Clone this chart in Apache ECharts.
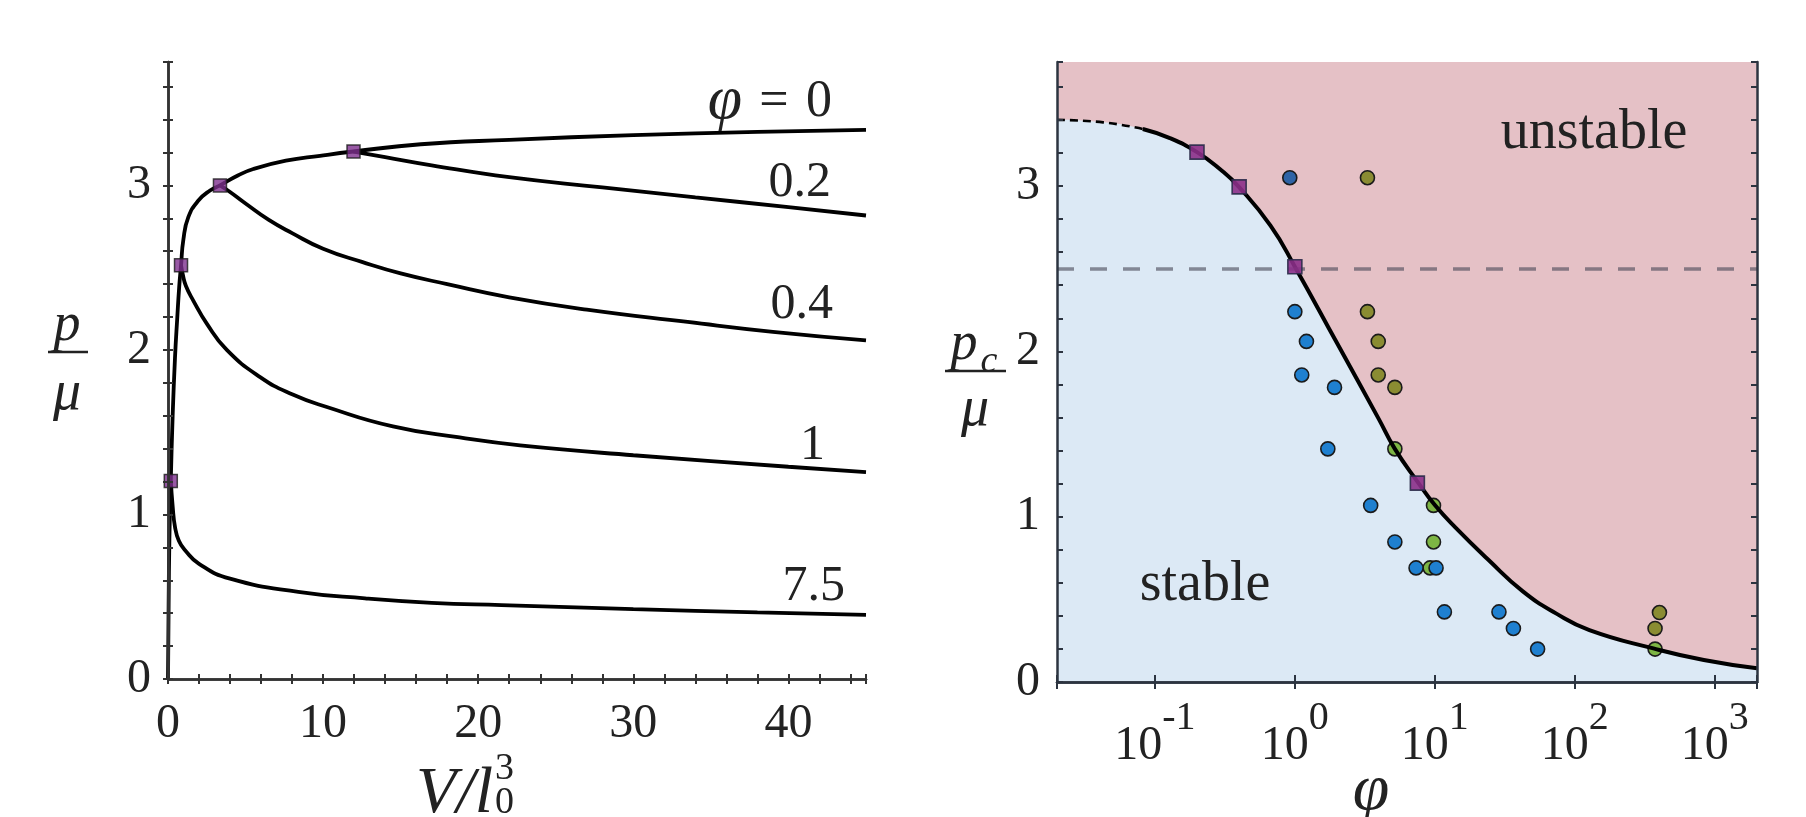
<!DOCTYPE html>
<html>
<head>
<meta charset="utf-8">
<title>p / mu</title>
<script src="https://cdn.jsdelivr.net/npm/echarts@6/dist/echarts.min.js"></script>
<style>
html, body { margin: 0; padding: 0; background: #fff; }
#chart { width: 1806px; height: 817px; }
</style>
</head>
<body>
<div id="chart"></div>
<script>
// left panel: p/mu against V/l0^3 for several phi
var phi0V = [0, 0.04, 0.09, 0.18, 0.3, 0.45, 0.6, 0.72, 0.84, 0.99, 1.31, 1.96, 2.71, 3.35, 4.5, 5.5, 7.6, 9.8, 11.96, 16.3, 22, 30, 38, 45];
var phi0P = [0, 0.45, 0.85, 1.204, 1.6, 1.95, 2.2, 2.38, 2.514, 2.67, 2.807, 2.908, 2.969, 3.0, 3.06, 3.10, 3.15, 3.18, 3.206, 3.25, 3.277, 3.305, 3.325, 3.338];
var phi02V = [11.96, 14, 17, 22, 28, 34, 40, 45];
var phi02P = [3.206, 3.172, 3.122, 3.05, 2.988, 2.927, 2.868, 2.817];
var phi04V = [3.35, 4, 5, 6.5, 8, 10, 12.5, 15, 18, 22, 27, 33.5, 39, 45];
var phi04P = [3.0, 2.96, 2.89, 2.79, 2.71, 2.615, 2.535, 2.465, 2.40, 2.32, 2.245, 2.17, 2.11, 2.058];
var phi1V = [0.84, 0.95, 1.15, 1.63, 2.5, 3.79, 5.94, 8, 10.24, 14.5, 18.8, 22.7, 30, 40, 45];
var phi1P = [2.514, 2.46, 2.39, 2.30, 2.16, 2.0, 1.835, 1.73, 1.653, 1.535, 1.468, 1.42, 1.36, 1.29, 1.257];
var phi75V = [0.18, 0.3, 0.45, 0.7, 1.1, 2, 4, 8.4, 12.7, 17, 21.5, 30, 38, 45];
var phi75P = [1.204, 1.05, 0.925, 0.84, 0.783, 0.70, 0.61, 0.53, 0.49, 0.463, 0.449, 0.425, 0.405, 0.39];
var peakV = [11.96, 3.35, 0.84, 0.18];
var peakP = [3.206, 3.0, 2.514, 1.204];
var curveLabels = ['0.2', '0.4', '1', '7.5'];

// right panel: critical pressure against phi (log axis)
var critPhi = [0.02, 0.0427, 0.082, 0.128, 0.2, 0.294, 0.398, 0.67, 1, 2, 3.98, 5.18, 7.64, 10, 14, 24.3, 42.3, 73.3, 127, 364, 834, 2000];
var critP = [3.40, 3.385, 3.345, 3.29, 3.205, 3.10, 2.995, 2.76, 2.512, 2.05, 1.59, 1.41, 1.203, 1.07, 0.935, 0.736, 0.55, 0.415, 0.314, 0.203, 0.133, 0.083];
var dashedUpTo = 2; // index where the curve turns solid
var critSqPhi = [0.2, 0.4, 1, 7.5];
var critSqP = [3.205, 2.995, 2.512, 1.203];
var refLine = 2.5;

var blueStablePhi = [1.0, 1.21, 1.12, 1.92, 1.72, 3.48, 5.18, 7.34, 10.2, 11.7, 28.7, 36.4, 54.2];
var blueStableP = [2.24, 2.06, 1.857, 1.782, 1.41, 1.068, 0.847, 0.69, 0.69, 0.424, 0.424, 0.324, 0.199];
var blueUnstablePhi = [0.92];
var blueUnstableP = [3.05];
var greenLinePhi = [5.18, 9.78, 9.78, 9.25, 374];
var greenLineP = [1.41, 1.068, 0.847, 0.69, 0.199];
var oliveUnstablePhi = [3.3, 3.3, 3.94, 3.94, 5.18, 402, 374];
var oliveUnstableP = [3.05, 2.24, 2.06, 1.857, 1.782, 0.42, 0.324];

var yTop = 3.75;
var font = 'Liberation Serif';
var ink = '#222';

function zip(xs, ys) {
	var out = [];
	for (var i = 0; i < xs.length; i++) {
		out.push([xs[i], ys[i]]);
	}
	return out;
}

function intLabel(v) {
	return Math.abs(v - Math.round(v)) < 1e-6 ? String(Math.round(v)) : '';
}

function tenLabel(v) {
	return Math.abs(v / 10 - Math.round(v / 10)) < 1e-6 ? String(Math.round(v)) : '';
}

function powLabel(v) {
	var e = Math.log(v) / Math.LN10;
	var r = Math.round(e);
	if (Math.abs(e - r) > 1e-6) {
		return '';
	}
	return '{b|10}{s|' + r + '}';
}

var leftAxisLine = { lineStyle: { color: '#333', width: 2.5 } };
var rightAxisLine = { lineStyle: { color: '#2c3440', width: 2.5 } };
var tickL = { inside: true, length: 5, lineStyle: { color: '#333', width: 2 } };
var tickR = { inside: true, length: 7, lineStyle: { color: '#2c3440', width: 2 } };
var labelBase = { color: ink, fontFamily: font, fontSize: 48 };

function blackCurve(v, p) {
	return {
		type: 'line',
		xAxisIndex: 0,
		yAxisIndex: 0,
		data: zip(v, p),
		smooth: 0.5,
		showSymbol: false,
		symbol: 'none',
		silent: true,
		z: 3,
		lineStyle: { color: '#000', width: 3.8 }
	};
}

function dots(phi, p, color) {
	return {
		type: 'scatter',
		xAxisIndex: 2,
		yAxisIndex: 2,
		data: zip(phi, p),
		symbol: 'circle',
		symbolSize: 14,
		silent: true,
		z: 3,
		itemStyle: { color: color, borderColor: '#1b1b1b', borderWidth: 1.6, opacity: 1 }
	};
}

function txt(x, y, s, size, extra) {
	var style = {
		text: s, fontFamily: font, fontSize: size, fill: ink,
		textAlign: 'center', textVerticalAlign: 'middle'
	};
	for (var k in extra) {
		style[k] = extra[k];
	}
	return { type: 'text', x: x, y: y, z: 20, style: style };
}

var it = { fontStyle: 'italic' };

var option = {
	animation: false,
	backgroundColor: '#fff',
	textStyle: { fontFamily: font },
	grid: [ {
		left: 168,
		top: 62,
		width: 698,
		height: 617,
		show: false
	}, {
		left: 1057,
		top: 62,
		width: 700,
		height: 620,
		show: true,
		borderWidth: 0,
		backgroundColor: '#dce9f5'
	} ],
	xAxis: [ {
		gridIndex: 0, type: 'value', position: 'bottom', min: 0, max: 45, interval: 2, z: 10,
		axisLine: leftAxisLine, axisTick: tickL, splitLine: { show: false },
		axisLabel: Object.assign({ margin: 21, formatter: tenLabel }, labelBase)
	}, {
		gridIndex: 0, type: 'value', position: 'top', min: 0, max: 45, interval: 2, z: 10,
		axisLine: leftAxisLine, axisTick: tickL, splitLine: { show: false },
		axisLabel: { show: false }
	}, {
		gridIndex: 1, type: 'log', logBase: 10, position: 'bottom', min: 0.02, max: 2000, z: 10,
		axisLine: rightAxisLine, axisTick: tickR, splitLine: { show: false },
		axisLabel: Object.assign({
			margin: 16,
			formatter: powLabel,
			rich: {
				b: { fontFamily: font, fontSize: 48, color: ink },
				s: { fontFamily: font, fontSize: 40, color: ink, padding: [0, 0, 56, 0] }
			}
		}, labelBase)
	}, {
		gridIndex: 1, type: 'log', logBase: 10, position: 'top', min: 0.02, max: 2000, z: 10,
		axisLine: rightAxisLine, axisTick: tickR, splitLine: { show: false },
		axisLabel: { show: false }
	} ],
	yAxis: [ {
		gridIndex: 0, type: 'value', position: 'left', min: 0, max: yTop, interval: 0.2, z: 10,
		axisLine: leftAxisLine, axisTick: tickL, splitLine: { show: false },
		axisLabel: Object.assign({ margin: 17, formatter: intLabel }, labelBase)
	}, {
		gridIndex: 0, type: 'value', position: 'right', min: 0, max: yTop, interval: 0.2, z: 10,
		axisLine: leftAxisLine, axisTick: tickL, splitLine: { show: false },
		axisLabel: { show: false }
	}, {
		gridIndex: 1, type: 'value', position: 'left', min: 0, max: yTop, interval: 0.2, z: 10,
		axisLine: rightAxisLine, axisTick: { inside: true, length: 6, lineStyle: { color: '#2c3440', width: 2 } },
		splitLine: { show: false },
		axisLabel: Object.assign({ margin: 17, formatter: intLabel }, labelBase)
	}, {
		gridIndex: 1, type: 'value', position: 'right', min: 0, max: yTop, interval: 0.2, z: 10,
		axisLine: rightAxisLine, axisTick: { inside: true, length: 6, lineStyle: { color: '#2c3440', width: 2 } },
		splitLine: { show: false },
		axisLabel: { show: false }
	} ],
	series: [
		blackCurve(phi0V, phi0P),
		blackCurve(phi02V, phi02P),
		blackCurve(phi04V, phi04P),
		blackCurve(phi1V, phi1P),
		blackCurve(phi75V, phi75P),
		{
			type: 'scatter',
			xAxisIndex: 0,
			yAxisIndex: 0,
			data: zip(peakV, peakP),
			symbol: 'rect',
			symbolSize: 13,
			silent: true,
			z: 5,
			itemStyle: { color: '#7e2f8e', borderColor: '#1a1a1a', borderWidth: 1.5 }
		},
		// unstable region: fill from the critical curve up to the top of the axis
		{
			type: 'line',
			xAxisIndex: 2,
			yAxisIndex: 2,
			data: zip(critPhi, critP),
			smooth: 0.5,
			showSymbol: false,
			symbol: 'none',
			silent: true,
			z: 1,
			lineStyle: { width: 0, opacity: 0 },
			areaStyle: { color: '#e5c1c6', opacity: 1, origin: 'end' },
			markLine: {
				silent: true,
				symbol: 'none',
				z: 5,
				label: { show: false },
				lineStyle: { color: 'rgba(70,70,85,0.6)', width: 3.5, type: [17, 16] },
				data: [ { yAxis: refLine } ]
			}
		},
		dots(greenLinePhi, greenLineP, '#7db544'),
		dots(oliveUnstablePhi, oliveUnstableP, '#8a8c32'),
		dots(blueUnstablePhi, blueUnstableP, '#2e64a6'),
		dots(blueStablePhi, blueStableP, '#1f80d0'),
		{
			type: 'line',
			xAxisIndex: 2,
			yAxisIndex: 2,
			data: zip(critPhi.slice(0, dashedUpTo + 1), critP.slice(0, dashedUpTo + 1)),
			smooth: 0.5,
			showSymbol: false,
			symbol: 'none',
			silent: true,
			z: 4,
			lineStyle: { color: '#000', width: 2.6, type: [8, 5] }
		},
		{
			type: 'line',
			xAxisIndex: 2,
			yAxisIndex: 2,
			data: zip(critPhi.slice(dashedUpTo), critP.slice(dashedUpTo)),
			smooth: 0.5,
			showSymbol: false,
			symbol: 'none',
			silent: true,
			z: 4,
			lineStyle: { color: '#000', width: 4 }
		},
		{
			type: 'scatter',
			xAxisIndex: 2,
			yAxisIndex: 2,
			data: zip(critSqPhi, critSqP),
			symbol: 'rect',
			symbolSize: 14,
			silent: true,
			z: 6,
			itemStyle: { color: '#8b2f88', borderColor: '#2b2b4a', borderWidth: 1.6, opacity: 0.9 }
		}
	],
	graphic: [
		// left y title: p over mu
		txt(67, 326, 'p', 54, it),
		{ type: 'line', shape: { x1: 48, y1: 352, x2: 88, y2: 352 }, style: { stroke: ink, lineWidth: 2.5 } },
		txt(67, 394, 'μ', 56, it),
		// right y title: p_c over mu
		txt(964, 345, 'p', 54, it),
		txt(989, 362, 'c', 38, it),
		{ type: 'line', shape: { x1: 945, y1: 371, x2: 1006, y2: 371 }, style: { stroke: ink, lineWidth: 2.5 } },
		txt(975, 410, 'μ', 56, it),
		// x titles
		txt(493, 795, 'V/l', 66, { fontStyle: 'italic', textAlign: 'right' }),
		txt(495, 803, '0', 38, { textAlign: 'left' }),
		txt(495, 769, '3', 38, { textAlign: 'left' }),
		txt(1371, 792, 'φ', 66, it),
		// curve labels, left panel
		txt(832, 102, '{i|φ}\u2004=\u20040', 52, {
			textAlign: 'right',
			rich: { i: { fontFamily: font, fontStyle: 'italic', fontSize: 62, fill: ink } }
		}),
		txt(831, 183, curveLabels[0], 50, { textAlign: 'right' }),
		txt(833, 305, curveLabels[1], 50, { textAlign: 'right' }),
		txt(825, 446, curveLabels[2], 50, { textAlign: 'right' }),
		txt(845, 587, curveLabels[3], 50, { textAlign: 'right' }),
		// region labels, right panel
		txt(1594, 133, 'unstable', 56),
		txt(1205, 585, 'stable', 56)
	]
};

var chart = echarts.init(document.getElementById('chart'));
chart.setOption(option);
</script>
</body>
</html>
